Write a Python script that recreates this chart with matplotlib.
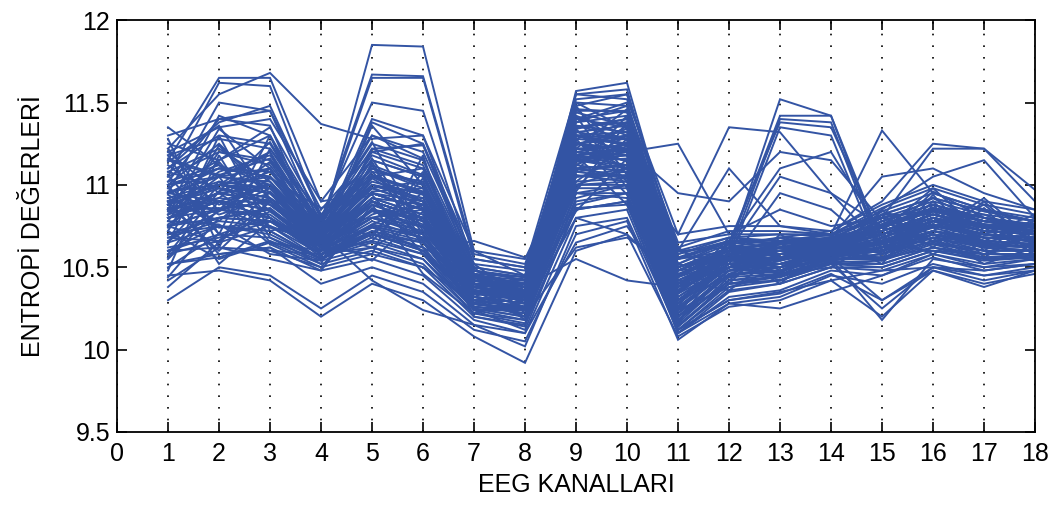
import matplotlib
matplotlib.use("Agg")
import matplotlib.pyplot as plt

plt.rcParams['font.family'] = ['Liberation Sans', 'DejaVu Sans']

channels = list(range(1, 19))
x_ticks = list(range(0, 19))
y_ticks = [9.5, 10, 10.5, 11, 11.5, 12]
y_tick_labels = ["9.5", "10", "10.5", "11", "11.5", "12"]

# Entropy values per recording, one value per EEG channel (1..18)
core_records = [
    [10.85, 10.95, 11.00, 10.65, 10.95, 10.85, 10.35, 10.30, 11.15, 11.20, 10.40, 10.55, 10.55, 10.60, 10.65, 10.75, 10.70, 10.65],
    [10.95, 11.10, 11.05, 10.70, 11.05, 10.90, 10.40, 10.35, 11.25, 11.30, 10.30, 10.50, 10.60, 10.62, 10.70, 10.80, 10.72, 10.70],
    [10.70, 10.80, 10.85, 10.60, 10.85, 10.70, 10.30, 10.25, 11.05, 11.10, 10.20, 10.45, 10.50, 10.58, 10.60, 10.70, 10.62, 10.60],
    [11.05, 11.20, 11.15, 10.75, 11.10, 11.00, 10.45, 10.40, 11.35, 11.40, 10.50, 10.60, 10.65, 10.65, 10.75, 10.85, 10.80, 10.75],
    [10.60, 10.75, 10.70, 10.55, 10.75, 10.60, 10.25, 10.20, 10.95, 11.00, 10.15, 10.40, 10.45, 10.55, 10.55, 10.65, 10.58, 10.58],
    [10.90, 10.85, 11.10, 10.68, 11.00, 10.95, 10.38, 10.32, 11.20, 11.15, 10.35, 10.58, 10.52, 10.60, 10.68, 10.78, 10.68, 10.68],
    [11.15, 11.05, 11.20, 10.72, 11.15, 11.05, 10.48, 10.42, 11.40, 11.35, 10.55, 10.65, 10.62, 10.68, 10.80, 10.90, 10.82, 10.78],
    [10.75, 10.65, 10.90, 10.62, 10.80, 10.75, 10.32, 10.28, 11.10, 11.05, 10.25, 10.48, 10.48, 10.56, 10.62, 10.72, 10.65, 10.62],
    [11.00, 11.25, 10.95, 10.66, 10.90, 10.80, 10.36, 10.34, 11.30, 11.25, 10.42, 10.55, 10.58, 10.63, 10.72, 10.82, 10.75, 10.70],
    [10.80, 10.90, 10.80, 10.58, 10.70, 10.65, 10.28, 10.22, 11.00, 11.10, 10.18, 10.42, 10.44, 10.54, 10.58, 10.68, 10.60, 10.60],
    [10.65, 11.00, 11.10, 10.70, 11.20, 11.10, 10.42, 10.38, 11.45, 11.45, 10.60, 10.68, 10.66, 10.66, 10.78, 10.88, 10.78, 10.76],
    [11.20, 10.95, 10.75, 10.64, 10.95, 10.90, 10.34, 10.30, 11.18, 11.22, 10.32, 10.52, 10.56, 10.61, 10.66, 10.76, 10.68, 10.66],
    [10.50, 10.70, 10.80, 10.56, 10.65, 10.55, 10.22, 10.18, 10.90, 10.95, 10.12, 10.38, 10.42, 10.52, 10.52, 10.62, 10.55, 10.56],
    [11.10, 11.30, 11.25, 10.74, 11.10, 10.98, 10.44, 10.36, 11.28, 11.38, 10.45, 10.62, 10.60, 10.64, 10.74, 10.86, 10.78, 10.72],
    [10.88, 10.60, 10.90, 10.62, 10.85, 10.80, 10.30, 10.26, 11.12, 11.08, 10.28, 10.50, 10.50, 10.58, 10.64, 10.74, 10.66, 10.64],
    [10.98, 11.15, 11.30, 10.78, 11.25, 11.15, 10.50, 10.45, 11.50, 11.48, 10.65, 10.70, 10.70, 10.70, 10.84, 10.95, 10.85, 10.80],
    [10.72, 10.55, 10.65, 10.52, 10.60, 10.50, 10.20, 10.15, 10.85, 10.90, 10.10, 10.35, 10.40, 10.50, 10.48, 10.58, 10.52, 10.55],
    [10.82, 11.05, 10.65, 10.60, 10.90, 10.70, 10.26, 10.24, 11.08, 11.12, 10.22, 10.46, 10.47, 10.57, 10.60, 10.70, 10.63, 10.62],
    [11.25, 11.15, 11.35, 10.80, 11.05, 11.10, 10.46, 10.44, 11.42, 11.30, 10.52, 10.64, 10.68, 10.67, 10.82, 10.92, 10.84, 10.78],
    [10.55, 10.85, 10.95, 10.64, 10.80, 10.85, 10.36, 10.30, 11.22, 11.18, 10.38, 10.56, 10.54, 10.62, 10.70, 10.80, 10.72, 10.70],
    [10.92, 10.78, 11.05, 10.68, 11.00, 10.92, 10.40, 10.38, 11.32, 11.28, 10.48, 10.60, 10.58, 10.64, 10.76, 10.84, 10.76, 10.74],
    [11.08, 10.98, 10.88, 10.66, 10.92, 10.88, 10.34, 10.32, 11.14, 11.16, 10.26, 10.50, 10.52, 10.60, 10.66, 10.76, 10.70, 10.66],
    [10.78, 11.20, 11.12, 10.72, 11.08, 11.02, 10.42, 10.40, 11.38, 11.42, 10.56, 10.66, 10.64, 10.66, 10.78, 10.88, 10.80, 10.74],
    [10.62, 10.68, 10.78, 10.58, 10.72, 10.62, 10.28, 10.24, 11.02, 11.04, 10.16, 10.44, 10.46, 10.55, 10.56, 10.66, 10.58, 10.58],
    [11.12, 10.88, 11.00, 10.70, 11.12, 11.00, 10.44, 10.40, 11.36, 11.32, 10.40, 10.58, 10.60, 10.63, 10.72, 10.82, 10.74, 10.72],
    [10.98, 10.82, 10.92, 10.63, 10.88, 10.76, 10.34, 10.36, 11.26, 11.14, 10.28, 10.56, 10.50, 10.59, 10.64, 10.72, 10.66, 10.64],
    [10.76, 10.96, 11.08, 10.71, 11.02, 10.94, 10.44, 10.28, 11.12, 11.26, 10.44, 10.54, 10.62, 10.66, 10.74, 10.84, 10.78, 10.76],
    [11.02, 11.12, 10.84, 10.62, 10.84, 10.74, 10.30, 10.34, 11.34, 11.40, 10.36, 10.62, 10.56, 10.62, 10.60, 10.70, 10.64, 10.62],
    [10.66, 10.84, 10.98, 10.66, 10.96, 10.98, 10.38, 10.30, 11.16, 11.20, 10.24, 10.48, 10.54, 10.60, 10.70, 10.78, 10.70, 10.68],
    [10.84, 11.08, 11.18, 10.74, 11.18, 11.06, 10.46, 10.38, 11.44, 11.36, 10.52, 10.66, 10.66, 10.68, 10.76, 10.86, 10.80, 10.76],
    [10.58, 10.66, 10.84, 10.60, 10.66, 10.58, 10.24, 10.18, 10.92, 11.00, 10.14, 10.40, 10.44, 10.53, 10.54, 10.64, 10.56, 10.57],
    [11.08, 11.22, 11.02, 10.68, 11.06, 10.96, 10.40, 10.42, 11.24, 11.34, 10.46, 10.58, 10.60, 10.65, 10.76, 10.86, 10.78, 10.74],
    [10.94, 10.74, 10.78, 10.60, 10.78, 10.68, 10.32, 10.28, 11.08, 11.04, 10.20, 10.46, 10.48, 10.57, 10.62, 10.72, 10.64, 10.63],
    [11.18, 11.28, 11.22, 10.76, 11.22, 11.12, 10.48, 10.44, 11.46, 11.44, 10.58, 10.68, 10.70, 10.69, 10.82, 10.92, 10.84, 10.78],
    [10.52, 10.56, 10.66, 10.54, 10.62, 10.52, 10.22, 10.16, 10.86, 10.88, 10.12, 10.36, 10.40, 10.50, 10.50, 10.60, 10.54, 10.56],
    [10.86, 10.92, 11.14, 10.70, 10.98, 11.02, 10.42, 10.36, 11.36, 11.28, 10.34, 10.56, 10.58, 10.61, 10.70, 10.80, 10.74, 10.70],
    [10.74, 11.02, 10.88, 10.64, 11.04, 10.86, 10.36, 10.30, 11.18, 11.12, 10.30, 10.52, 10.52, 10.59, 10.66, 10.76, 10.68, 10.66],
]

# Recordings whose values wander across the band from channel to channel
mixed_records = [
    [11.28, 10.62, 11.22, 10.82, 10.68, 11.08, 10.36, 10.26, 11.42, 10.98, 10.26, 10.66, 10.44, 10.66, 10.58, 10.94, 10.60, 10.80],
    [10.48, 11.18, 10.68, 10.52, 11.14, 10.62, 10.44, 10.36, 10.96, 11.38, 10.62, 10.40, 10.70, 10.52, 10.82, 10.62, 10.86, 10.56],
    [11.06, 10.70, 11.30, 10.62, 10.58, 11.18, 10.28, 10.40, 11.22, 11.46, 10.16, 10.60, 10.46, 10.68, 10.52, 10.88, 10.56, 10.74],
    [10.64, 11.30, 10.72, 10.80, 11.26, 10.72, 10.50, 10.22, 11.48, 11.06, 10.34, 10.50, 10.64, 10.54, 10.78, 10.66, 10.90, 10.62],
    [10.90, 10.58, 10.62, 10.48, 10.88, 10.46, 10.22, 10.30, 11.02, 11.24, 10.42, 10.36, 10.58, 10.60, 10.62, 10.90, 10.62, 10.68],
    [11.14, 11.36, 10.90, 10.58, 10.66, 10.96, 10.40, 10.18, 11.28, 10.94, 10.22, 10.58, 10.40, 10.64, 10.70, 10.58, 10.74, 10.58],
    [10.58, 10.96, 11.26, 10.76, 11.30, 11.16, 10.34, 10.44, 11.40, 11.50, 10.52, 10.44, 10.68, 10.58, 10.56, 10.80, 10.66, 10.78],
    [10.78, 10.76, 10.58, 10.54, 10.76, 10.88, 10.46, 10.34, 10.84, 11.16, 10.30, 10.54, 10.52, 10.62, 10.80, 10.70, 10.52, 10.62],
    [11.02, 11.40, 11.36, 10.66, 11.12, 10.66, 10.24, 10.24, 11.46, 11.20, 10.44, 10.62, 10.60, 10.56, 10.66, 10.96, 10.80, 10.70],
    [10.68, 10.66, 10.96, 10.70, 10.62, 10.80, 10.38, 10.40, 11.12, 11.30, 10.18, 10.46, 10.56, 10.66, 10.74, 10.66, 10.70, 10.66],
    [10.88, 11.14, 10.80, 10.60, 11.22, 11.24, 10.52, 10.30, 11.34, 11.02, 10.38, 10.64, 10.48, 10.62, 10.60, 10.84, 10.64, 10.76],
    [11.22, 10.84, 11.04, 10.86, 10.94, 10.58, 10.30, 10.26, 11.08, 11.42, 10.28, 10.50, 10.62, 10.60, 10.84, 10.74, 10.88, 10.64],
    [10.44, 10.80, 10.86, 10.62, 10.82, 10.92, 10.42, 10.36, 11.26, 11.10, 10.56, 10.56, 10.50, 10.64, 10.64, 10.60, 10.58, 10.72],
    [10.96, 11.00, 11.20, 10.56, 11.08, 10.78, 10.26, 10.32, 11.50, 11.34, 10.14, 10.42, 10.66, 10.58, 10.76, 10.92, 10.76, 10.60],
    [10.72, 11.24, 10.92, 10.74, 10.70, 11.04, 10.48, 10.38, 10.98, 11.28, 10.48, 10.60, 10.54, 10.66, 10.54, 10.78, 10.82, 10.70],
    [11.00, 10.52, 10.78, 10.68, 10.54, 10.84, 10.20, 10.14, 11.18, 10.88, 10.24, 10.38, 10.46, 10.50, 10.68, 10.64, 10.60, 10.54],
    [10.82, 11.34, 11.10, 10.64, 11.36, 11.00, 10.40, 10.28, 11.38, 11.48, 10.34, 10.68, 10.64, 10.68, 10.72, 10.98, 10.70, 10.82],
    [10.56, 10.90, 10.64, 10.50, 10.86, 10.66, 10.32, 10.44, 11.06, 11.02, 10.60, 10.52, 10.42, 10.56, 10.60, 10.68, 10.66, 10.56],
    [11.16, 11.06, 11.16, 10.76, 10.80, 10.88, 10.36, 10.20, 11.30, 11.24, 10.20, 10.48, 10.58, 10.62, 10.82, 10.82, 10.74, 10.74],
    [10.84, 10.86, 10.74, 10.66, 11.16, 10.70, 10.44, 10.32, 11.16, 11.36, 10.40, 10.58, 10.62, 10.58, 10.62, 10.72, 10.92, 10.66],
]

# Recordings at the outer edges of the band
spread_records = [
    [10.42, 10.62, 10.55, 10.48, 10.55, 10.45, 10.18, 10.10, 10.80, 10.85, 10.10, 10.32, 10.36, 10.48, 10.45, 10.56, 10.48, 10.52],
    [10.30, 10.50, 10.45, 10.25, 10.45, 10.35, 10.12, 10.05, 10.70, 10.78, 10.06, 10.28, 10.32, 10.45, 10.40, 10.52, 10.45, 10.50],
    [11.30, 11.40, 11.45, 10.85, 11.20, 11.25, 10.55, 10.50, 11.55, 11.52, 10.70, 10.75, 10.75, 10.72, 10.88, 11.00, 10.90, 10.85],
    [10.45, 10.48, 10.42, 10.20, 10.40, 10.30, 10.08, 9.92, 10.60, 10.70, 10.08, 10.26, 10.30, 10.42, 10.20, 10.48, 10.40, 10.46],
    [11.20, 11.35, 11.40, 10.90, 11.30, 11.20, 10.52, 10.48, 11.48, 11.55, 10.62, 10.72, 10.72, 10.70, 10.86, 10.98, 10.88, 10.82],
    [10.52, 10.58, 10.62, 10.40, 10.50, 10.40, 10.15, 10.02, 10.75, 10.80, 10.12, 10.30, 10.34, 10.46, 10.30, 10.50, 10.45, 10.48],
    [11.18, 10.70, 10.60, 10.58, 10.62, 10.55, 10.25, 10.20, 10.95, 10.92, 10.14, 10.40, 10.42, 10.52, 10.50, 10.60, 10.55, 10.56],
    [10.38, 10.65, 10.75, 10.55, 10.68, 10.58, 10.24, 10.12, 10.88, 10.95, 10.20, 10.40, 10.42, 10.54, 10.52, 10.62, 10.56, 10.58],
    [11.35, 11.12, 11.00, 10.70, 10.42, 10.24, 10.15, 10.10, 10.65, 10.75, 10.30, 10.45, 10.48, 10.55, 10.55, 10.62, 10.58, 10.58],
    [10.95, 10.90, 10.80, 10.60, 10.70, 10.60, 10.66, 10.56, 10.85, 10.90, 10.40, 10.50, 10.52, 10.56, 10.60, 10.68, 10.62, 10.60],
    [10.60, 10.62, 10.60, 10.50, 10.58, 10.50, 10.28, 10.38, 10.55, 10.42, 10.38, 10.48, 10.50, 10.55, 10.58, 10.66, 10.60, 10.60],
    [10.70, 10.75, 10.72, 10.55, 10.70, 10.60, 10.30, 10.20, 10.62, 10.68, 10.48, 10.52, 10.55, 10.58, 10.62, 10.70, 10.64, 10.62],
    [10.75, 10.80, 10.85, 10.60, 10.75, 10.68, 10.32, 10.25, 10.80, 10.70, 10.40, 10.50, 10.52, 10.56, 10.60, 10.68, 10.62, 10.60],
    [10.70, 10.80, 10.78, 10.58, 10.75, 10.68, 10.30, 10.26, 11.00, 11.02, 10.22, 10.45, 10.50, 10.55, 10.18, 10.55, 10.50, 10.55],
    [10.65, 10.75, 10.72, 10.55, 10.72, 10.65, 10.28, 10.24, 10.98, 10.98, 10.18, 10.42, 10.46, 10.52, 10.25, 10.50, 10.48, 10.52],
    [10.75, 10.85, 10.82, 10.60, 10.80, 10.70, 10.32, 10.28, 11.05, 11.06, 10.25, 10.48, 10.52, 10.56, 10.30, 10.48, 10.38, 10.48],
    [10.60, 10.70, 10.68, 10.55, 10.70, 10.62, 10.26, 10.22, 10.95, 10.95, 10.10, 10.28, 10.25, 10.35, 10.45, 10.58, 10.50, 10.52],
    [10.68, 10.78, 10.75, 10.58, 10.74, 10.66, 10.28, 10.25, 11.00, 11.00, 10.12, 10.30, 10.35, 10.42, 10.48, 10.50, 10.42, 10.48],
]

# Recordings with raised entropy on channels 2-3
high_ch2_3 = [
    [11.15, 11.65, 11.65, 10.90, 10.95, 10.85, 10.45, 10.40, 11.30, 11.25, 10.40, 10.55, 10.58, 10.62, 10.70, 10.80, 10.72, 10.70],
    [11.05, 11.62, 11.60, 10.80, 11.10, 11.00, 10.40, 10.35, 11.25, 11.30, 10.35, 10.55, 10.60, 10.60, 10.68, 10.78, 10.70, 10.68],
    [11.22, 11.55, 11.68, 11.37, 11.28, 11.30, 10.60, 10.45, 11.40, 11.45, 10.50, 10.60, 10.65, 10.65, 10.75, 10.85, 10.78, 10.74],
    [10.95, 11.50, 11.45, 10.75, 11.00, 10.90, 10.38, 10.30, 11.20, 11.15, 10.30, 10.50, 10.55, 10.58, 10.66, 10.75, 10.68, 10.66],
    [11.10, 11.38, 11.48, 10.82, 11.15, 11.05, 10.42, 10.36, 11.32, 11.36, 10.45, 10.58, 10.62, 10.63, 10.72, 10.82, 10.76, 10.72],
    [10.85, 11.42, 11.30, 10.70, 10.98, 10.88, 10.36, 10.32, 11.18, 11.22, 10.32, 10.52, 10.56, 10.60, 10.66, 10.76, 10.70, 10.68],
]

# Recordings with raised entropy on channels 5-6
high_ch5_6 = [
    [10.90, 11.00, 10.95, 10.72, 11.85, 11.84, 10.60, 10.55, 11.20, 11.15, 10.40, 10.55, 10.58, 10.60, 10.68, 10.78, 10.72, 10.70],
    [10.95, 11.05, 11.00, 10.75, 11.65, 11.65, 10.55, 10.50, 11.25, 11.20, 10.45, 10.58, 10.60, 10.62, 10.70, 10.80, 10.74, 10.72],
    [10.88, 11.00, 11.05, 10.78, 11.67, 11.66, 10.58, 10.52, 11.30, 11.28, 10.48, 10.60, 10.62, 10.64, 10.72, 10.82, 10.76, 10.74],
    [11.00, 11.10, 11.08, 10.80, 11.50, 11.45, 10.50, 10.45, 11.28, 11.25, 10.42, 10.56, 10.60, 10.62, 10.70, 10.80, 10.74, 10.72],
    [10.80, 10.95, 10.90, 10.70, 11.40, 11.30, 10.48, 10.42, 11.15, 11.18, 10.38, 10.54, 10.56, 10.60, 10.66, 10.78, 10.70, 10.68],
    [10.85, 10.90, 11.00, 10.65, 11.38, 11.25, 10.45, 10.40, 11.10, 11.12, 10.36, 10.52, 10.55, 10.58, 10.64, 10.76, 10.68, 10.66],
]

# Recordings with raised entropy on channels 9-10
high_ch9_10 = [
    [10.90, 11.00, 10.95, 10.65, 10.95, 10.85, 10.40, 10.35, 11.57, 11.62, 10.55, 10.60, 10.62, 10.65, 10.72, 10.82, 10.75, 10.72],
    [10.80, 10.85, 10.90, 10.62, 10.90, 10.80, 10.38, 10.40, 11.55, 11.58, 10.50, 10.58, 10.60, 10.62, 10.70, 10.80, 10.72, 10.70],
    [11.00, 11.05, 11.10, 10.70, 11.05, 10.95, 10.45, 10.42, 11.52, 11.55, 10.60, 10.62, 10.64, 10.66, 10.74, 10.84, 10.78, 10.74],
]

# Recordings with raised entropy on channels 11-14
high_ch11_14 = [
    [10.85, 10.95, 10.90, 10.66, 10.90, 10.80, 10.38, 10.34, 11.20, 11.25, 10.45, 10.60, 11.52, 11.42, 10.60, 10.75, 10.70, 10.68],
    [10.90, 11.00, 10.98, 10.68, 10.95, 10.85, 10.40, 10.36, 11.25, 11.28, 10.50, 10.62, 11.42, 11.42, 10.65, 10.78, 10.72, 10.70],
    [10.80, 10.90, 10.85, 10.64, 10.85, 10.78, 10.36, 10.32, 11.15, 11.18, 10.40, 10.58, 11.40, 11.38, 10.58, 10.72, 10.68, 10.66],
    [10.95, 11.05, 11.02, 10.70, 11.00, 10.90, 10.42, 10.38, 11.30, 11.32, 10.55, 10.65, 11.38, 11.35, 10.68, 10.80, 10.74, 10.72],
    [10.75, 10.85, 10.80, 10.62, 10.80, 10.72, 10.34, 10.30, 11.10, 11.12, 10.35, 10.55, 11.35, 11.30, 10.55, 10.70, 10.66, 10.64],
    [11.00, 11.10, 11.05, 10.72, 11.05, 10.95, 10.44, 10.40, 11.35, 11.38, 10.58, 10.66, 11.10, 11.20, 10.70, 10.82, 10.76, 10.74],
    [10.88, 10.98, 10.92, 10.66, 10.92, 10.82, 10.38, 10.34, 11.22, 11.24, 10.48, 10.60, 11.05, 10.95, 10.62, 10.76, 10.70, 10.68],
    [10.70, 10.80, 10.78, 10.60, 10.76, 10.70, 10.32, 10.28, 11.05, 11.08, 10.30, 10.52, 10.95, 10.85, 10.58, 10.72, 10.66, 10.64],
    [10.90, 11.00, 10.95, 10.66, 10.95, 10.85, 10.40, 10.36, 11.30, 11.20, 11.25, 10.70, 10.85, 10.75, 10.80, 10.85, 10.78, 10.74],
    [10.85, 10.95, 10.90, 10.65, 10.90, 10.80, 10.38, 10.34, 11.15, 11.10, 10.70, 11.35, 11.32, 10.95, 10.75, 10.85, 10.75, 10.72],
    [10.80, 10.90, 10.85, 10.62, 10.88, 10.78, 10.36, 10.32, 11.10, 11.05, 10.60, 11.10, 10.75, 10.70, 10.70, 10.80, 10.72, 10.70],
    [10.92, 11.02, 10.98, 10.68, 10.98, 10.88, 10.42, 10.38, 11.25, 11.22, 10.95, 10.90, 11.20, 11.15, 10.78, 10.88, 10.80, 10.76],
]

# Recordings with raised entropy on channels 15-17
high_ch15_17 = [
    [10.85, 10.95, 10.90, 10.65, 10.90, 10.80, 10.38, 10.34, 11.20, 11.18, 10.45, 10.60, 10.65, 10.70, 11.33, 10.95, 10.85, 10.78],
    [10.90, 11.00, 10.95, 10.68, 10.95, 10.85, 10.40, 10.36, 11.25, 11.22, 10.50, 10.62, 10.68, 10.72, 10.90, 11.25, 11.22, 10.97],
    [10.88, 10.98, 10.92, 10.66, 10.92, 10.82, 10.38, 10.35, 11.22, 11.20, 10.48, 10.60, 10.66, 10.70, 10.80, 11.22, 11.22, 10.90],
    [10.82, 10.92, 10.88, 10.64, 10.88, 10.78, 10.36, 10.33, 11.18, 11.15, 10.44, 10.58, 10.64, 10.68, 11.05, 11.10, 10.95, 10.85],
    [10.80, 10.90, 10.85, 10.62, 10.85, 10.75, 10.35, 10.32, 11.15, 11.12, 10.42, 10.56, 10.62, 10.66, 10.85, 11.05, 11.15, 10.80],
]

line_color = "#3354a4"

fig = plt.figure(figsize=(10.57, 5.05), dpi=100)
ax = fig.add_axes([0.1107, 0.1446, 0.8685, 0.8154])

for group in (core_records, mixed_records, spread_records, high_ch2_3,
              high_ch5_6, high_ch9_10, high_ch11_14, high_ch15_17):
    for row in group:
        ax.plot(channels, row, color=line_color, linewidth=1.4, solid_joinstyle="miter")

ax.set_xlim(0, 18)
ax.set_ylim(9.5, 12)
ax.set_xticks(x_ticks)
ax.set_xticklabels([str(v) for v in x_ticks])
ax.set_yticks(y_ticks)
ax.set_yticklabels(y_tick_labels)

ax.tick_params(direction="in", length=7, width=1.2, top=True, right=True,
               labelsize=18, colors="black")
ax.tick_params(axis="x", pad=7)
ax.tick_params(axis="y", pad=5)
ax.xaxis.grid(True, linestyle=(0, (1, 6)), color="black", linewidth=1.2)
ax.yaxis.grid(False)
for sp in ax.spines.values():
    sp.set_linewidth(1.3)

ax.set_xlabel("EEG KANALLARI", fontsize=18, labelpad=5)
ax.set_ylabel("ENTROPİ DEĞERLERİ", fontsize=18, labelpad=12)

fig.savefig("out.png", dpi=100)
